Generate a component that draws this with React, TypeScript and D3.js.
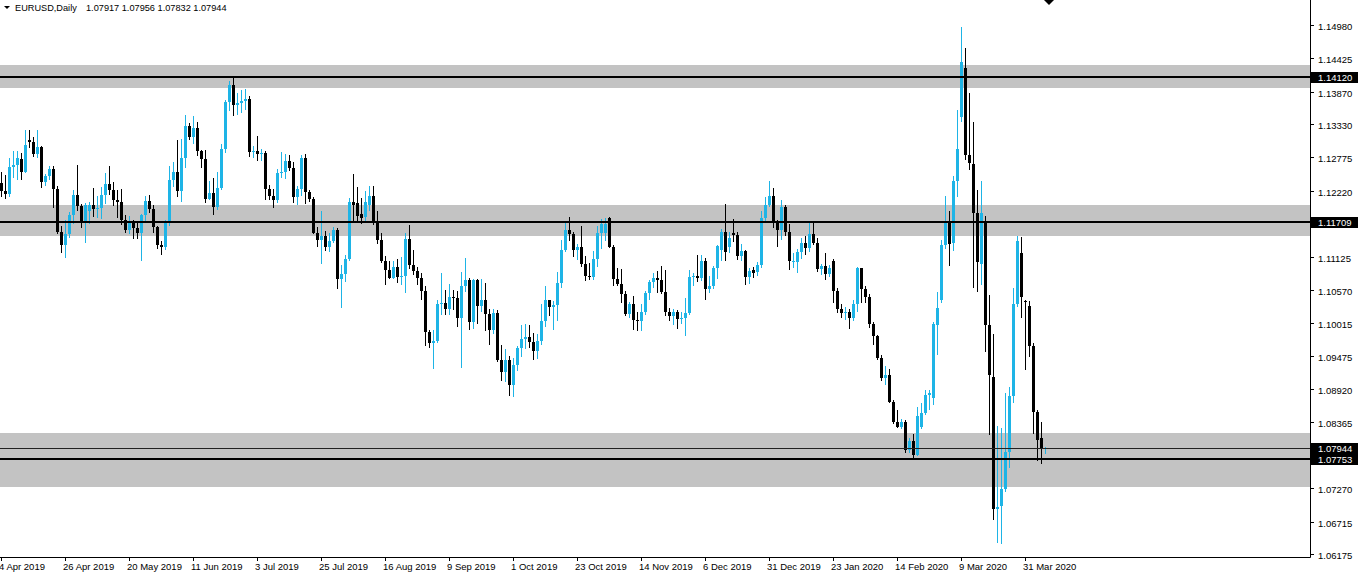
import { useRef, useEffect } from 'react';
import * as d3 from 'd3';

// daily bars, 4 Apr 2019 .. 7 Apr 2020 (index 0..261)
const opens = [
  1.1235, 1.1221, 1.1217, 1.1262, 1.1265, 1.1275, 1.1254, 1.1306, 1.1303, 1.1284,
  1.1295, 1.1236, 1.1246, 1.1258, 1.1225, 1.1153, 1.1131, 1.1150, 1.1182, 1.1215,
  1.1196, 1.1170, 1.1189, 1.1199, 1.1191, 1.1193, 1.1215, 1.1234, 1.1224, 1.1206,
  1.1203, 1.1173, 1.1157, 1.1168, 1.1160, 1.1151, 1.1181, 1.1205, 1.1192, 1.1162,
  1.1131, 1.1129, 1.1169, 1.1240, 1.1253, 1.1222, 1.1277, 1.1330, 1.1311, 1.1327,
  1.1288, 1.1275, 1.1209, 1.1218, 1.1195, 1.1226, 1.1292, 1.1370, 1.1398, 1.1365,
  1.1369, 1.1371, 1.1374, 1.1286, 1.1288, 1.1283, 1.1285, 1.1225, 1.1213, 1.1207,
  1.1252, 1.1254, 1.1271, 1.1260, 1.1211, 1.1225, 1.1276, 1.1220, 1.1209, 1.1151,
  1.1140, 1.1146, 1.1128, 1.1139, 1.1156, 1.1076, 1.1084, 1.1108, 1.1203, 1.1202,
  1.1184, 1.1178, 1.1199, 1.1214, 1.1171, 1.1140, 1.1106, 1.1090, 1.1077, 1.1095,
  1.1078, 1.1081, 1.1142, 1.1099, 1.1089, 1.1077, 1.1055, 1.0987, 1.0969, 1.0972,
  1.1034, 1.1036, 1.1026, 1.1045, 1.1043, 1.1011, 1.1063, 1.1073, 1.1003, 1.1073,
  1.1030, 1.1040, 1.1017, 1.0991, 1.1019, 1.0941, 1.0920, 1.0940, 1.0898, 1.0932,
  1.0961, 1.0975, 1.0978, 1.0971, 1.0955, 1.0972, 1.1005, 1.1041, 1.1029, 1.1032,
  1.1068, 1.1124, 1.1156, 1.1150, 1.1124, 1.1128, 1.1101, 1.1081, 1.1079, 1.1108,
  1.1151, 1.1152, 1.1176, 1.1128, 1.1075, 1.1067, 1.1051, 1.1017, 1.1033, 1.1007,
  1.1005, 1.1021, 1.1052, 1.1070, 1.1077, 1.1074, 1.1053, 1.1020, 1.1013, 1.1020,
  1.1009, 1.1010, 1.1018, 1.1078, 1.1081, 1.1077, 1.1106, 1.1058, 1.1064, 1.1093,
  1.1124, 1.1153, 1.1128, 1.1152, 1.1148, 1.1113, 1.1121, 1.1079, 1.1090, 1.1087,
  1.1098, 1.1177, 1.1199, 1.1213, 1.1171, 1.1157, 1.1195, 1.1153, 1.1103, 1.1104,
  1.1120, 1.1135, 1.1127, 1.1150, 1.1135, 1.1092, 1.1097, 1.1083, 1.1105, 1.1055,
  1.1026, 1.1019, 1.1020, 1.1010, 1.1033, 1.1093, 1.1059, 1.1045, 1.1001, 1.0980,
  1.0944, 1.0910, 1.0916, 1.0871, 1.0838, 1.0829, 1.0838, 1.0790, 1.0806, 1.0782,
  1.0829, 1.0852, 1.0882, 1.0877, 1.0999, 1.1041, 1.1132, 1.1172, 1.1135, 1.1239,
  1.1345, 1.1427, 1.1281, 1.1267, 1.1185, 1.1100, 1.1169, 1.0998, 1.0912, 1.0693,
  1.0698, 1.0725, 1.0787, 1.0881, 1.1033, 1.1119, 1.1039, 1.1031, 1.0963, 1.0854,
  1.0810, 1.07917,
];
const highs = [
  1.1254, 1.1249, 1.1277, 1.1288, 1.1289, 1.1285, 1.1324, 1.1323, 1.1311, 1.1324,
  1.1297, 1.1250, 1.1264, 1.1263, 1.1230, 1.1163, 1.1173, 1.1186, 1.1224, 1.1265,
  1.1200, 1.1201, 1.1204, 1.1227, 1.1214, 1.1229, 1.1251, 1.1264, 1.1236, 1.1224,
  1.1225, 1.1182, 1.1180, 1.1173, 1.1171, 1.1183, 1.1214, 1.1215, 1.1198, 1.1163,
  1.1138, 1.1173, 1.1264, 1.1270, 1.1307, 1.1309, 1.1348, 1.1335, 1.1346, 1.1336,
  1.1290, 1.1290, 1.1238, 1.1244, 1.1254, 1.1300, 1.1373, 1.1404, 1.1412, 1.1385,
  1.1390, 1.1392, 1.1379, 1.1297, 1.1314, 1.1292, 1.1289, 1.1232, 1.1225, 1.1258,
  1.1286, 1.1283, 1.1282, 1.1270, 1.1230, 1.1282, 1.1284, 1.1223, 1.1212, 1.1162,
  1.1188, 1.1155, 1.1151, 1.1162, 1.1160, 1.1098, 1.1116, 1.1210, 1.1250, 1.1229,
  1.1210, 1.1222, 1.1230, 1.1230, 1.1188, 1.1152, 1.1114, 1.1105, 1.1106, 1.1108,
  1.1112, 1.1152, 1.1165, 1.1123, 1.1095, 1.1085, 1.1063, 1.0990, 1.0990, 1.1040,
  1.1085, 1.1057, 1.1067, 1.1057, 1.1055, 1.1087, 1.1110, 1.1077, 1.1075, 1.1075,
  1.1075, 1.1068, 1.1026, 1.1025, 1.1023, 1.0965, 1.0958, 1.0947, 1.0943, 1.0963,
  1.0998, 1.1000, 1.0999, 1.0986, 1.0984, 1.1034, 1.1063, 1.1041, 1.1039, 1.1087,
  1.1140, 1.1172, 1.1179, 1.1154, 1.1134, 1.1163, 1.1114, 1.1102, 1.1122, 1.1163,
  1.1175, 1.1176, 1.1179, 1.1132, 1.1093, 1.1092, 1.1055, 1.1037, 1.1047, 1.1020,
  1.1033, 1.1055, 1.1073, 1.1085, 1.1089, 1.1097, 1.1090, 1.1027, 1.1025, 1.1023,
  1.1021, 1.1043, 1.1090, 1.1086, 1.1116, 1.1116, 1.1110, 1.1080, 1.1097, 1.1131,
  1.1158, 1.1200, 1.1154, 1.1175, 1.1154, 1.1134, 1.1124, 1.1094, 1.1095, 1.1103,
  1.1188, 1.1211, 1.1239, 1.1226, 1.1174, 1.1206, 1.1199, 1.1166, 1.1118, 1.1125,
  1.1144, 1.1147, 1.1172, 1.1172, 1.1143, 1.1100, 1.1118, 1.1098, 1.1108, 1.1061,
  1.1034, 1.1029, 1.1026, 1.1040, 1.1096, 1.1093, 1.1063, 1.1050, 1.1003, 1.0982,
  1.0948, 1.0930, 1.0926, 1.0873, 1.0858, 1.0842, 1.0840, 1.0810, 1.0818, 1.0862,
  1.0869, 1.0891, 1.0891, 1.1003, 1.1054, 1.1140, 1.1214, 1.1189, 1.1247, 1.1356,
  1.1495, 1.1459, 1.1385, 1.1336, 1.1224, 1.1239, 1.1180, 1.1048, 1.0983, 1.0830,
  1.0827, 1.0886, 1.0896, 1.1060, 1.1147, 1.1145, 1.1041, 1.1039, 1.0969, 1.0857,
  1.0837, 1.07956,
];
const lows = [
  1.1211, 1.1208, 1.1212, 1.1244, 1.1240, 1.1240, 1.1252, 1.1294, 1.1278, 1.1277,
  1.1226, 1.1230, 1.1240, 1.1193, 1.1150, 1.1118, 1.1110, 1.1143, 1.1166, 1.1189,
  1.1160, 1.1135, 1.1167, 1.1178, 1.1176, 1.1175, 1.1200, 1.1215, 1.1197, 1.1177,
  1.1165, 1.1152, 1.1150, 1.1142, 1.1142, 1.1106, 1.1172, 1.1185, 1.1152, 1.1125,
  1.1116, 1.1124, 1.1164, 1.1228, 1.1212, 1.1204, 1.1260, 1.1306, 1.1300, 1.1280,
  1.1260, 1.1202, 1.1206, 1.1181, 1.1190, 1.1223, 1.1285, 1.1355, 1.1346, 1.1349,
  1.1352, 1.1356, 1.1279, 1.1277, 1.1271, 1.1271, 1.1207, 1.1206, 1.1193, 1.1201,
  1.1243, 1.1242, 1.1255, 1.1201, 1.1198, 1.1214, 1.1200, 1.1204, 1.1150, 1.1128,
  1.1101, 1.1121, 1.1120, 1.1135, 1.1058, 1.1027, 1.1070, 1.1105, 1.1170, 1.1170,
  1.1167, 1.1171, 1.1188, 1.1165, 1.1133, 1.1102, 1.1066, 1.1075, 1.1075, 1.1068,
  1.1066, 1.1052, 1.1092, 1.1082, 1.1065, 1.1040, 1.0964, 1.0960, 1.0926, 1.0968,
  1.1015, 1.1016, 1.1015, 1.1023, 1.0995, 1.0927, 1.1054, 1.0990, 1.0992, 1.1001,
  1.1020, 1.0989, 1.0965, 1.0983, 1.0937, 1.0905, 1.0904, 1.0880, 1.0879, 1.0922,
  1.0945, 1.0958, 1.0960, 1.0941, 1.0942, 1.0965, 1.0996, 1.1013, 1.0990, 1.1005,
  1.1060, 1.1120, 1.1139, 1.1112, 1.1107, 1.1095, 1.1072, 1.1073, 1.1073, 1.1095,
  1.1125, 1.1139, 1.1126, 1.1063, 1.1064, 1.1035, 1.1014, 1.1010, 1.0990, 1.0989,
  1.0988, 1.1015, 1.1040, 1.1060, 1.1052, 1.1050, 1.1014, 1.1005, 1.0998, 1.0992,
  1.1000, 1.0981, 1.1015, 1.1063, 1.1070, 1.1072, 1.1040, 1.1052, 1.1058, 1.1075,
  1.1106, 1.1106, 1.1118, 1.1137, 1.1107, 1.1105, 1.1066, 1.1067, 1.1077, 1.1080,
  1.1093, 1.1171, 1.1195, 1.1160, 1.1128, 1.1140, 1.1147, 1.1091, 1.1094, 1.1085,
  1.1109, 1.1115, 1.1120, 1.1132, 1.1087, 1.1082, 1.1074, 1.1078, 1.1036, 1.1019,
  1.1010, 1.1007, 1.0992, 1.1005, 1.1020, 1.1036, 1.1036, 1.0993, 1.0965, 1.0940,
  1.0906, 1.0898, 1.0869, 1.0834, 1.0827, 1.0826, 1.0785, 1.0786, 1.0778, 1.0780,
  1.0826, 1.0849, 1.0858, 1.0865, 1.0949, 1.1036, 1.1125, 1.1097, 1.1122, 1.1212,
  1.1336, 1.1274, 1.1256, 1.1060, 1.1053, 1.1066, 1.0954, 1.0815, 1.0674, 1.0636,
  1.0634, 1.0720, 1.0760, 1.0869, 1.1028, 1.1010, 1.0924, 1.0945, 1.0818, 1.0772,
  1.0767, 1.07832,
];
const closes = [
  1.1221, 1.1217, 1.1262, 1.1265, 1.1276, 1.1254, 1.1298, 1.1303, 1.1284, 1.1295,
  1.1236, 1.1246, 1.1258, 1.1225, 1.1153, 1.1131, 1.1150, 1.1182, 1.1215, 1.1196,
  1.1170, 1.1199, 1.1199, 1.1191, 1.1193, 1.1215, 1.1233, 1.1224, 1.1206, 1.1203,
  1.1173, 1.1157, 1.1168, 1.1160, 1.1151, 1.1181, 1.1205, 1.1192, 1.1162, 1.1131,
  1.1129, 1.1169, 1.1240, 1.1253, 1.1222, 1.1277, 1.1330, 1.1311, 1.1327, 1.1288,
  1.1275, 1.1209, 1.1218, 1.1195, 1.1226, 1.1292, 1.1370, 1.1398, 1.1365, 1.1369,
  1.1371, 1.1374, 1.1286, 1.1288, 1.1283, 1.1285, 1.1225, 1.1213, 1.1207, 1.1252,
  1.1254, 1.1271, 1.1260, 1.1211, 1.1225, 1.1276, 1.1220, 1.1209, 1.1151, 1.1140,
  1.1146, 1.1128, 1.1139, 1.1156, 1.1076, 1.1084, 1.1108, 1.1203, 1.1199, 1.1180,
  1.1176, 1.1203, 1.1214, 1.1171, 1.1140, 1.1106, 1.1090, 1.1077, 1.1095, 1.1078,
  1.1081, 1.1142, 1.1099, 1.1089, 1.1077, 1.1055, 1.0987, 1.0969, 1.0972, 1.1034,
  1.1036, 1.1026, 1.1045, 1.1043, 1.1011, 1.1063, 1.1073, 1.1003, 1.1073, 1.1030,
  1.1040, 1.1017, 1.0991, 1.1019, 1.0941, 1.0920, 1.0940, 1.0898, 1.0932, 1.0961,
  1.0975, 1.0978, 1.0971, 1.0955, 1.0972, 1.1005, 1.1041, 1.1029, 1.1032, 1.1068,
  1.1124, 1.1156, 1.1150, 1.1124, 1.1128, 1.1101, 1.1081, 1.1079, 1.1108, 1.1151,
  1.1167, 1.1166, 1.1128, 1.1075, 1.1067, 1.1051, 1.1017, 1.1033, 1.1007, 1.1005,
  1.1021, 1.1052, 1.1070, 1.1077, 1.1074, 1.1053, 1.1020, 1.1013, 1.1020, 1.1009,
  1.1010, 1.1018, 1.1078, 1.1081, 1.1077, 1.1106, 1.1058, 1.1064, 1.1093, 1.1130,
  1.1153, 1.1120, 1.1144, 1.1148, 1.1113, 1.1121, 1.1079, 1.1088, 1.1085, 1.1098,
  1.1177, 1.1199, 1.1213, 1.1171, 1.1157, 1.1195, 1.1153, 1.1105, 1.1106, 1.1120,
  1.1135, 1.1127, 1.1150, 1.1135, 1.1092, 1.1097, 1.1083, 1.1093, 1.1055, 1.1026,
  1.1019, 1.1020, 1.1010, 1.1033, 1.1093, 1.1059, 1.1045, 1.1001, 1.0980, 1.0944,
  1.0910, 1.0916, 1.0871, 1.0838, 1.0829, 1.0838, 1.0790, 1.0806, 1.0782, 1.0847,
  1.0852, 1.0882, 1.0886, 1.1000, 1.1027, 1.1132, 1.1172, 1.1134, 1.1239, 1.1291,
  1.1437, 1.1282, 1.1269, 1.1185, 1.1104, 1.1185, 1.0998, 1.0916, 1.0693, 1.0696,
  1.0725, 1.0787, 1.0881, 1.1033, 1.1139, 1.1045, 1.1037, 1.0963, 1.0854, 1.0807,
  1.0792, 1.07944,
];

const dateLabels = [
  '4 Apr 2019', '26 Apr 2019', '20 May 2019', '11 Jun 2019', '3 Jul 2019', '25 Jul 2019',
  '16 Aug 2019', '9 Sep 2019', '1 Oct 2019', '23 Oct 2019', '14 Nov 2019', '6 Dec 2019',
  '31 Dec 2019', '23 Jan 2020', '14 Feb 2020', '9 Mar 2020', '31 Mar 2020',
];
const dateLabelBars = [0, 16, 32, 48, 64, 80, 96, 112, 128, 144, 160, 176, 192, 208, 224, 240, 256];

const priceTicks = [
  1.1498, 1.14425, 1.1387, 1.1333, 1.12775, 1.1222, 1.11125, 1.1057, 1.10015,
  1.09475, 1.0892, 1.08365, 1.0727, 1.06715, 1.06175,
];

const levels = [1.1412, 1.11709, 1.07753];
const zoneTops = [1.14314, 1.11984, 1.08189];
const zoneBottoms = [1.13931, 1.11468, 1.0729];

const symbol = 'EURUSD,Daily';

export default function App() {
  const svgRef = useRef<SVGSVGElement>(null);

  useEffect(() => {
    if (!svgRef.current) return;
    const svg = d3.select(svgRef.current);
    svg.selectAll('*').remove();

    const width = 1358;
    const height = 578;
    const plotRight = 1310;
    const plotBottom = 557;
    const font = '"Liberation Sans", Arial, sans-serif';
    const bull = '#1EB4E6';

    const n = closes.length;
    const x = d3.scaleLinear().domain([0, n - 1]).range([1, 1045]);
    const y = d3.scaleLinear().domain([1.06175, 1.1498]).range([554, 25]);
    const bid = closes[n - 1];

    svg.append('rect').attr('width', width).attr('height', height).attr('fill', '#fff');

    // support / resistance zones
    svg.append('g')
      .selectAll('rect')
      .data(zoneTops)
      .join('rect')
      .attr('x', 0)
      .attr('width', plotRight)
      .attr('y', (d) => Math.round(y(d)))
      .attr('height', (d, i) => Math.round(y(zoneBottoms[i])) - Math.round(y(d)))
      .attr('fill', '#C3C3C3');

    // candles
    const idx = d3.range(n);
    const candles = svg.append('g').attr('shape-rendering', 'crispEdges');
    candles.selectAll('rect.wick')
      .data(idx)
      .join('rect')
      .attr('class', 'wick')
      .attr('x', (i) => Math.round(x(i)))
      .attr('width', 1)
      .attr('y', (i) => Math.round(y(highs[i])))
      .attr('height', (i) => Math.max(1, Math.round(y(lows[i])) - Math.round(y(highs[i]))))
      .attr('fill', (i) => (closes[i] > opens[i] ? bull : '#000'));
    candles.selectAll('rect.body')
      .data(idx)
      .join('rect')
      .attr('class', 'body')
      .attr('x', (i) => Math.round(x(i)) - 1)
      .attr('width', 3)
      .attr('y', (i) => Math.round(y(Math.max(opens[i], closes[i]))))
      .attr('height', (i) =>
        Math.max(1, Math.round(y(Math.min(opens[i], closes[i]))) - Math.round(y(Math.max(opens[i], closes[i]))))
      )
      .attr('fill', (i) => (closes[i] > opens[i] ? bull : '#000'));

    // horizontal levels
    svg.append('g')
      .selectAll('line')
      .data(levels)
      .join('line')
      .attr('x1', 0)
      .attr('x2', plotRight)
      .attr('y1', (d) => Math.round(y(d)))
      .attr('y2', (d) => Math.round(y(d)))
      .attr('stroke', '#000')
      .attr('stroke-width', 2);

    // bid line
    svg.append('line')
      .attr('x1', 0)
      .attr('x2', plotRight)
      .attr('y1', Math.round(y(bid)) + 0.5)
      .attr('y2', Math.round(y(bid)) + 0.5)
      .attr('stroke', '#222')
      .attr('stroke-width', 1);

    // frame
    svg.append('line')
      .attr('x1', plotRight + 0.5).attr('x2', plotRight + 0.5)
      .attr('y1', 0).attr('y2', plotBottom + 0.5)
      .attr('stroke', '#000');
    svg.append('line')
      .attr('x1', 0).attr('x2', plotRight + 0.5)
      .attr('y1', plotBottom + 0.5).attr('y2', plotBottom + 0.5)
      .attr('stroke', '#000');

    // price scale
    const py = svg.append('g').attr('font-family', font).attr('font-size', '9.5px');
    py.selectAll('line')
      .data(priceTicks)
      .join('line')
      .attr('x1', plotRight + 1).attr('x2', plotRight + 4)
      .attr('y1', (d) => Math.round(y(d)) + 0.5)
      .attr('y2', (d) => Math.round(y(d)) + 0.5)
      .attr('stroke', '#000');
    py.selectAll('text')
      .data(priceTicks)
      .join('text')
      .attr('x', plotRight + 8)
      .attr('y', (d) => y(d) + 5)
      .attr('fill', '#000')
      .text((d) => d.toFixed(5));

    // highlighted price labels
    const tags = [...levels, bid];
    const tg = svg.append('g').attr('font-family', font).attr('font-size', '9.5px');
    tg.selectAll('rect')
      .data(tags)
      .join('rect')
      .attr('x', plotRight + 1)
      .attr('y', (d) => Math.round(y(d)) - 5)
      .attr('width', width - plotRight - 1)
      .attr('height', 11)
      .attr('fill', '#000');
    tg.selectAll('text')
      .data(tags)
      .join('text')
      .attr('x', plotRight + 8)
      .attr('y', (d) => Math.round(y(d)) + 4)
      .attr('fill', '#fff')
      .text((d) => d.toFixed(5));

    // time scale
    const tx = svg.append('g').attr('font-family', font).attr('font-size', '9.5px');
    tx.selectAll('line')
      .data(dateLabelBars)
      .join('line')
      .attr('x1', (d) => Math.round(x(d)) + 0.5)
      .attr('x2', (d) => Math.round(x(d)) + 0.5)
      .attr('y1', plotBottom + 1)
      .attr('y2', plotBottom + 4)
      .attr('stroke', '#000');
    tx.selectAll('text')
      .data(dateLabels)
      .join('text')
      .attr('x', (d, i) => x(dateLabelBars[i]) - 2)
      .attr('y', 570)
      .attr('fill', '#000')
      .text((d) => d);

    // header
    svg.append('path')
      .attr('d', 'M4,6 L10,6 L7,9 Z')
      .attr('fill', '#000');
    const hdr = svg.append('g').attr('font-family', font).attr('font-size', '9.2px').attr('fill', '#000');
    hdr.append('text').attr('x', 15).attr('y', 11).text(symbol);
    hdr.append('text')
      .attr('x', 86)
      .attr('y', 11)
      .text([opens[n - 1], highs[n - 1], lows[n - 1], closes[n - 1]].map((v) => v.toFixed(5)).join(' '));

    // chart shift marker
    const sx = x(n - 1) + 4;
    svg.append('path')
      .attr('d', `M${sx - 5},0 L${sx + 5},0 L${sx},5 Z`)
      .attr('fill', '#000');
  }, []);

  return (
    <svg
      ref={svgRef}
      width={1358}
      height={578}
      viewBox="0 0 1358 578"
      style={{ position: 'absolute', left: 0, top: 0, display: 'block' }}
    />
  );
}
